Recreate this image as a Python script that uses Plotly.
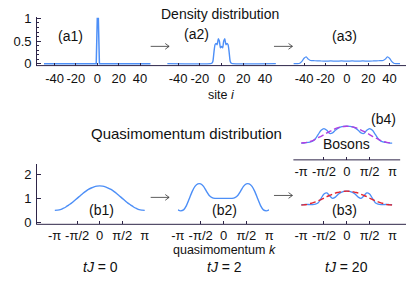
import math
import plotly.graph_objects as go

# ---------------- data ----------------
site_a1 = [-50, -2, -1, 0, 1, 2, 50]
dens_a1 = [0, 0, 0, 1, 1, 0, 0]

site_a2 = [-50, -10, -9, -8, -7, -6, -5, -4, -3, -2, -1, 0, 1, 2, 3, 4, 5, 6, 7, 8, 9, 10, 50]
dens_a2 = [0, 0, 0.01, 0.05, 0.25, 0.42, 0.45, 0.42, 0.55, 0.5, 0.35, 0.38, 0.35, 0.5, 0.55, 0.42, 0.45, 0.42, 0.25, 0.05, 0.01, 0, 0]

site_a3 = [-50, -46, -44, -42, -40, -38, -36, -34, -30, -25, -20, -15, -10, -5, 0, 5, 10, 15, 20, 25, 30, 34, 36, 38, 40, 42, 44, 46, 50]
dens_a3 = [0, 0, 0.01, 0.05, 0.12, 0.15, 0.1, 0.07, 0.065, 0.06, 0.055, 0.06, 0.055, 0.06, 0.055, 0.06, 0.055, 0.06, 0.055, 0.06, 0.065, 0.07, 0.1, 0.15, 0.12, 0.05, 0.01, 0, 0]

# quasimomentum grid in units of pi
k_frac = [-1, -0.9375, -0.875, -0.8125, -0.75, -0.6875, -0.625, -0.5625, -0.5, -0.4375, -0.375, -0.3125,
          -0.25, -0.1875, -0.125, -0.0625, 0, 0.0625, 0.125, 0.1875, 0.25, 0.3125, 0.375, 0.4375, 0.5,
          0.5625, 0.625, 0.6875, 0.75, 0.8125, 0.875, 0.9375, 1]
k_vals = [f * math.pi for f in k_frac]

nk_b1 = [0.5, 0.51, 0.53, 0.58, 0.64, 0.72, 0.8, 0.9, 1.0, 1.1, 1.2, 1.29, 1.37, 1.43, 1.48, 1.51, 1.52,
         1.51, 1.48, 1.43, 1.37, 1.29, 1.2, 1.1, 1.0, 0.9, 0.8, 0.72, 0.64, 0.58, 0.53, 0.51, 0.5]

nk_b2 = [0.52, 0.48, 0.52, 0.7, 0.98, 1.28, 1.5, 1.6, 1.6, 1.5, 1.3, 1.12, 1.03, 1.0, 1.0, 1.0, 1.0,
         1.0, 1.0, 1.0, 1.03, 1.12, 1.3, 1.5, 1.6, 1.6, 1.5, 1.28, 0.98, 0.7, 0.52, 0.48, 0.52]

nk_b3 = [0.74, 0.74, 0.75, 0.74, 0.74, 0.76, 0.82, 1.0, 1.18, 1.23, 1.1, 1.0, 1.05, 1.17, 1.25, 1.29, 1.3,
         1.29, 1.25, 1.17, 1.05, 1.0, 1.1, 1.23, 1.18, 1.0, 0.82, 0.76, 0.74, 0.74, 0.75, 0.74, 0.74]
nk_b3_fit = [0.72, 0.73, 0.74, 0.78, 0.81, 0.85, 0.9, 0.95, 1.01, 1.07, 1.12, 1.17, 1.22, 1.25, 1.28, 1.29, 1.3,
             1.29, 1.28, 1.25, 1.22, 1.17, 1.12, 1.07, 1.01, 0.95, 0.9, 0.85, 0.81, 0.78, 0.74, 0.73, 0.72]

nk_b4 = [0.62, 0.62, 0.64, 0.66, 0.7, 0.8, 0.98, 1.15, 1.22, 1.15, 1.02, 1.04, 1.15, 1.24, 1.29, 1.31, 1.32,
         1.31, 1.29, 1.24, 1.15, 1.04, 1.02, 1.15, 1.22, 1.15, 0.98, 0.8, 0.7, 0.66, 0.64, 0.62, 0.62]
nk_b4_fit = [0.62, 0.63, 0.65, 0.68, 0.72, 0.78, 0.84, 0.9, 0.97, 1.04, 1.1, 1.16, 1.22, 1.26, 1.29, 1.31, 1.32,
             1.31, 1.29, 1.26, 1.22, 1.16, 1.1, 1.04, 0.97, 0.9, 0.84, 0.78, 0.72, 0.68, 0.65, 0.63, 0.62]

site_ticks = [-40, -20, 0, 20, 40]
site_ticktext = ["-40", "-20", "0", "20", "40"]
k_tickvals = [-math.pi, -math.pi / 2, 0, math.pi / 2, math.pi]
k_ticktext = ["-π", "-π/2", "0", "π/2", "π"]

# ---------------- layout helpers ----------------
W, H = 411, 289
def fx(px):
    return px / W
def fy(py):
    return 1 - py / H

BLUE = "#4d8ff7"
RED = "#e3262f"
PURPLE = "#b13fe0"
AX = "#2e2548"
FONT = "Liberation Sans, Arial, sans-serif"

fig = go.Figure()
line_b = dict(color=BLUE, width=1.5)
fig.add_trace(go.Scatter(x=site_a1, y=dens_a1, mode="lines", line=line_b, xaxis="x", yaxis="y"))
fig.add_trace(go.Scatter(x=site_a2, y=dens_a2, mode="lines", line=dict(color=BLUE, width=1.4, shape="spline", smoothing=0.6), xaxis="x2", yaxis="y2"))
fig.add_trace(go.Scatter(x=site_a3, y=dens_a3, mode="lines", line=dict(color=BLUE, width=1.2, shape="spline", smoothing=0.6), xaxis="x3", yaxis="y3"))
sp = dict(shape="spline", smoothing=0.8)
fig.add_trace(go.Scatter(x=k_vals, y=nk_b1, mode="lines", line=dict(color=BLUE, width=1.4, **sp), xaxis="x4", yaxis="y4"))
fig.add_trace(go.Scatter(x=k_vals, y=nk_b2, mode="lines", line=dict(color=BLUE, width=1.4, **sp), xaxis="x5", yaxis="y5"))
fig.add_trace(go.Scatter(x=k_vals, y=nk_b3, mode="lines", line=dict(color=BLUE, width=1.3, **sp), xaxis="x6", yaxis="y6"))
fig.add_trace(go.Scatter(x=k_vals, y=nk_b3_fit, mode="lines", line=dict(color=RED, width=1.4, dash="6px,3px", **sp), xaxis="x6", yaxis="y6"))
fig.add_trace(go.Scatter(x=k_vals, y=nk_b4, mode="lines", line=dict(color=BLUE, width=1.3, **sp), xaxis="x7", yaxis="y7"))
fig.add_trace(go.Scatter(x=k_vals, y=nk_b4_fit, mode="lines", line=dict(color=PURPLE, width=1.4, dash="6px,3px", **sp), xaxis="x7", yaxis="y7"))

tickfont = dict(family=FONT, size=13, color="#111")

def xax(d0, d1, rng, anchor, vals, text=None, standoff=3):
    a = dict(domain=[fx(d0), fx(d1)], range=rng, anchor=anchor, showline=False, showgrid=False,
             zeroline=False, ticks="inside", ticklen=3, tickwidth=0.8, tickcolor=AX, tickangle=0,
             tickvals=vals, tickfont=tickfont, fixedrange=True, ticklabelstandoff=standoff)
    if text is not None:
        a["ticktext"] = text
    return a

def yax_hidden(top, bot, rng, anchor):
    return dict(domain=[fy(bot), fy(top)], range=rng, anchor=anchor, visible=False, fixedrange=True)

top_rng = [-2 / 47, 1 + 2 / 47]
bot_rng = [-2 / 25, (226 - 165) / 25]
b4_rng = [-2 / 25, (159 - 100) / 25]

layout = dict(
    width=W, height=H, margin=dict(l=0, r=0, t=0, b=0),
    paper_bgcolor="white", plot_bgcolor="rgba(0,0,0,0)", showlegend=False,
    font=dict(family=FONT, size=13, color="#111"),
    xaxis=xax(38, 148, [-50, 50], "y", site_ticks, site_ticktext),
    yaxis=dict(domain=[fy(63), fy(12)], range=top_rng, anchor="free", position=fx(30),
               showline=True, linecolor=AX, linewidth=1, showgrid=False, zeroline=False,
               ticks="inside", ticklen=4, tickwidth=0.8, tickcolor=AX, tickvals=[0, 0.5, 1],
               ticktext=["0", "0.5", "1"], tickfont=tickfont, fixedrange=True, ticklabelstandoff=2,
               minor=dict(ticks="inside", ticklen=2, tickwidth=0.6, tickcolor=AX, dtick=0.1)),
    xaxis2=xax(165, 277, [-50, 50], "y2", site_ticks, site_ticktext),
    yaxis2=yax_hidden(12, 63, top_rng, "x2"),
    xaxis3=xax(295, 405, [-50, 50], "y3", site_ticks, site_ticktext),
    yaxis3=yax_hidden(12, 63, top_rng, "x3"),
    xaxis4=xax(49, 142, [-math.pi, math.pi], "y4", k_tickvals, k_ticktext, standoff=2),
    yaxis4=dict(domain=[fy(228), fy(165)], range=bot_rng, anchor="free", position=fx(30),
                showline=True, linecolor=AX, linewidth=1, showgrid=False, zeroline=False,
                ticks="inside", ticklen=4, tickwidth=0.8, tickcolor=AX, tickvals=[0, 1, 2],
                tickfont=tickfont, fixedrange=True, ticklabelstandoff=2),
    xaxis5=xax(176, 270, [-math.pi, math.pi], "y5", k_tickvals, k_ticktext, standoff=2),
    yaxis5=yax_hidden(165, 228, bot_rng, "x5"),
    xaxis6=xax(303, 397, [-math.pi, math.pi], "y6", k_tickvals, k_ticktext, standoff=2),
    yaxis6=yax_hidden(165, 228, bot_rng, "x6"),
    xaxis7=xax(303, 397, [-math.pi, math.pi], "y7", k_tickvals, k_ticktext, standoff=2),
    yaxis7=yax_hidden(100, 161, b4_rng, "x7"),
)
fig.update_layout(**layout)

# axis baselines
shapes = []
for (x0, x1, yy) in [(30, 411, 63), (30, 411, 228), (295, 405, 161)]:
    shapes.append(dict(type="line", xref="paper", yref="paper", x0=fx(x0), x1=fx(x1), y0=fy(yy), y1=fy(yy),
                       line=dict(color=AX, width=1)))
# arrows
for (x0, x1, yy) in [(148, 167, 43), (275, 294, 43), (148, 167, 200), (275, 294, 198)]:
    path = "M {a},{b} L {c},{b} M {d},{e} L {c},{b} L {d},{f}".format(
        a=fx(x0), b=fy(yy), c=fx(x1), d=fx(x1 - 4), e=fy(yy - 3), f=fy(yy + 3))
    shapes.append(dict(type="path", xref="paper", yref="paper", path=path, line=dict(color="#333", width=0.8)))
fig.update_layout(shapes=shapes)

texts = [
    ("Density distribution", 219, 9, 14),
    ("site <i>i</i>", 221, 94, 12.5),
    ("Quasimomentum distribution", 185, 134, 15),
    ("quasimomentum <i>k</i>", 224, 255, 12.5),
    ("<i>tJ</i> = 0", 96, 272, 14),
    ("<i>tJ</i> = 2", 224, 272, 14),
    ("<i>tJ</i> = 20", 350, 272, 14),
    ("(a1)", 65, 32, 14),
    ("(a2)", 195, 30, 14),
    ("(a3)", 348, 32, 14),
    ("(b1)", 97, 213, 14),
    ("(b2)", 224, 213, 14),
    ("(b3)", 348, 213, 14),
    ("(b4)", 388, 119, 14),
    ("Bosons", 350, 145, 14),
]
for (t, x, y, s) in texts:
    fig.add_annotation(text=t, x=fx(x), y=fy(y), xref="paper", yref="paper", showarrow=False,
                       xanchor="center", yanchor="middle", font=dict(family=FONT, size=s, color="#111"))

fig.write_html("out.html", config={"displayModeBar": False},
               post_script="document.body.style.margin='0px';document.body.style.padding='0px';")
